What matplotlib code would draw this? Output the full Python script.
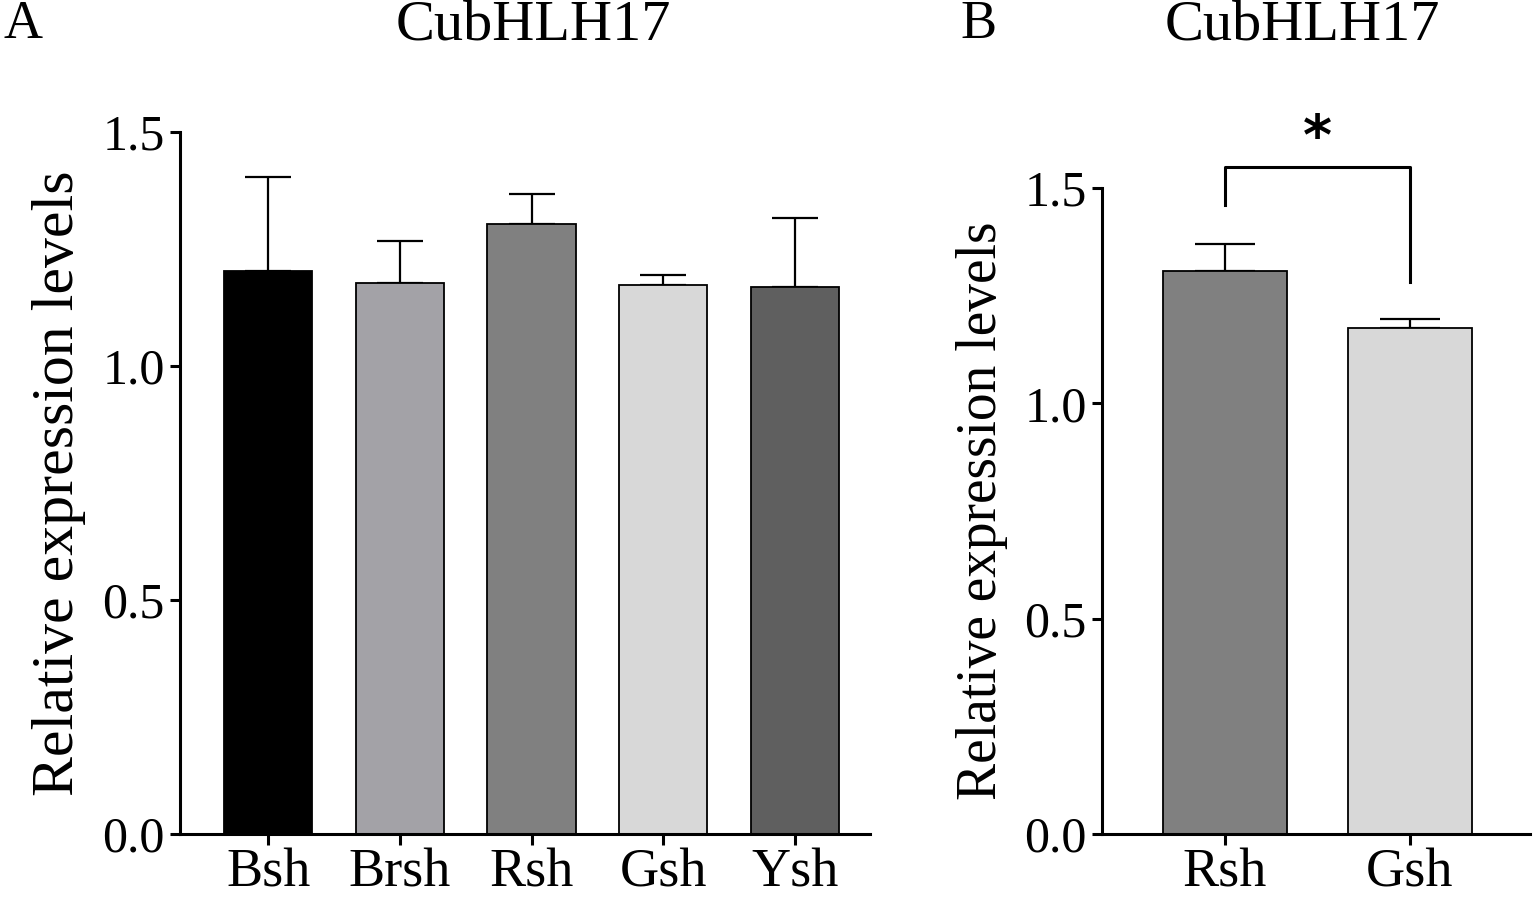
import numpy as np
import matplotlib.pyplot as plt

plt.rcParams['font.family'] = ['Liberation Serif', 'DejaVu Serif']

# panel A data
groups_a = ["Bsh", "Brsh", "Rsh", "Gsh", "Ysh"]
means_a = [1.203, 1.178, 1.304, 1.173, 1.169]
errs_a = [0.201, 0.089, 0.064, 0.022, 0.147]
colors_a = ["#000000", "#a3a2a7", "#808080", "#d8d8d8", "#5f5f5f"]

# panel B data
groups_b = ["Rsh", "Gsh"]
means_b = [1.308, 1.175]
errs_b = [0.062, 0.021]
colors_b = ["#808080", "#d8d8d8"]

yticks = [0.0, 0.5, 1.0, 1.5]
ytick_labels = ["0.0", "0.5", "1.0", "1.5"]

fig = plt.figure(figsize=[15.36, 8.98], dpi=100)
ax_a = fig.add_axes([0.1172, 0.0713, 0.4492, 0.7817])
ax_b = fig.add_axes([0.7174, 0.0713, 0.2786, 0.7193])


def draw_panel(ax, groups, means, errs, colors, capsize, xlim, ylabel_size):
    x = np.arange(len(groups))
    ax.bar(x, means, width=0.67, color=colors, edgecolor="black",
           linewidth=1.3, zorder=2)
    ax.errorbar(x, means, yerr=[np.zeros(len(errs)), errs], fmt="none",
                ecolor="black", elinewidth=1.6, capsize=capsize,
                capthick=1.6, zorder=1)
    ax.set_xlim(xlim)
    ax.set_ylim(0, 1.5)
    ax.set_yticks(yticks)
    ax.set_yticklabels(ytick_labels)
    ax.set_xticks(x)
    ax.set_xticklabels(groups)
    for s in ["top", "right"]:
        ax.spines[s].set_visible(False)
    for s in ["left", "bottom"]:
        ax.spines[s].set_linewidth(2.2)
    ax.tick_params(axis="y", direction="out", length=7, width=2.2,
                   labelsize=36, pad=4)
    ax.tick_params(axis="x", direction="out", length=8, width=2.2,
                   labelsize=39, pad=2)
    ax.set_ylabel("Relative expression levels", fontsize=ylabel_size,
                  labelpad=12)


draw_panel(ax_a, groups_a, means_a, errs_a, colors_a, 16.5,
           (-0.67, 4.57), 43)
draw_panel(ax_b, groups_b, means_b, errs_b, colors_b, 21.5,
           (-0.665, 1.65), 40)

# significance bracket on panel B
ax_b.plot([0, 0, 1, 1], [1.46, 1.549, 1.549, 1.282], color="black",
          linewidth=2.2, clip_on=False)
ax_b.text(0.5, 1.615, "*", ha="center", va="center", fontsize=40,
          fontweight="bold", family="DejaVu Sans")

fig.text(0.347, 0.972, "CubHLH17", fontsize=42, ha="center", va="center")
fig.text(0.848, 0.972, "CubHLH17", fontsize=42, ha="center", va="center")
fig.text(0.002, 0.972, "A", fontsize=39, ha="left", va="center")
fig.text(0.625, 0.972, "B", fontsize=39, ha="left", va="center")

plt.savefig("out.png", dpi=100)
